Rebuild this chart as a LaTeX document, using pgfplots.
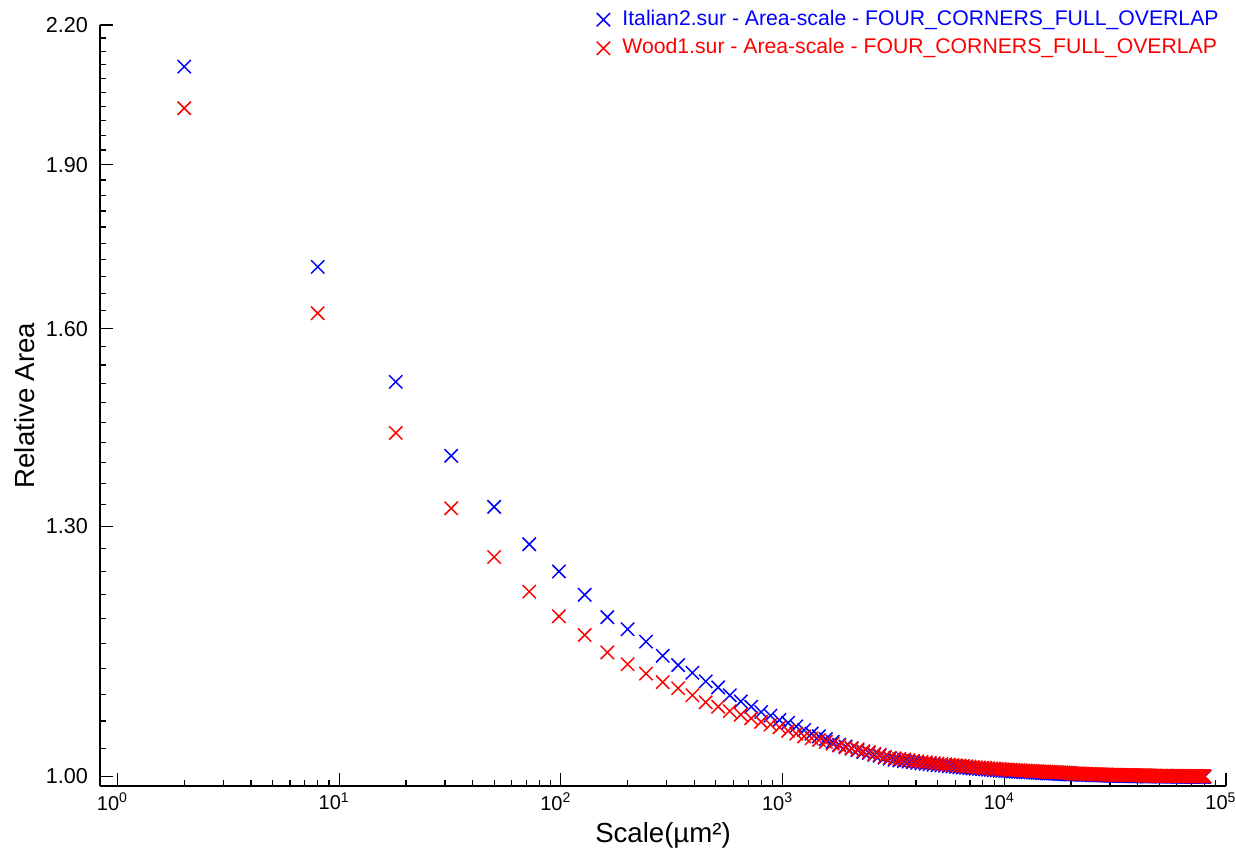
\documentclass[border=0pt]{standalone}
\usepackage{fontspec}
\setmainfont{Liberation Sans}
\usepackage{pgfplots}
\usepackage{pgfplotstable}
\pgfplotsset{compat=1.18}
\pgfplotstableread{
x B R
2 2.106 2.016
8 1.707 1.626
18 1.513 1.434
32 1.400 1.325
50 1.327 1.259
72 1.276 1.214
98 1.240 1.183
128 1.210 1.160
162 1.182 1.139
200 1.167 1.125
242 1.152 1.114
288 1.135 1.104
338 1.124 1.097
392 1.115 1.089
450 1.105 1.081
512 1.098 1.076
578 1.089 1.071
648 1.082 1.067
722 1.076 1.063
800 1.070 1.059
882 1.066 1.056
968 1.061 1.053
1058 1.058 1.049
1152 1.054 1.046
1250 1.050 1.043
1352 1.046 1.041
1458 1.043 1.039
1568 1.040 1.037
1682 1.037 1.035
1800 1.034 1.033
1922 1.032 1.031
2048 1.030 1.030
2178 1.028 1.029
2312 1.026 1.027
2450 1.025 1.026
2592 1.023 1.024
2738 1.022 1.023
2888 1.020 1.021
3042 1.019 1.020
3200 1.0177 1.0193
3362 1.0170 1.0186
3528 1.0164 1.0180
3698 1.0157 1.0173
3872 1.0151 1.0167
4050 1.0144 1.0160
4232 1.0139 1.0155
4418 1.0134 1.0150
4608 1.0130 1.0146
4802 1.0125 1.0141
5000 1.0120 1.0136
5202 1.0116 1.0132
5408 1.0113 1.0129
5618 1.0109 1.0125
5832 1.0106 1.0122
6050 1.0102 1.0118
6272 1.0099 1.0115
6498 1.0095 1.0111
6728 1.0092 1.0108
6962 1.0088 1.0104
7200 1.0085 1.0101
7442 1.0082 1.0098
7688 1.0080 1.0096
7938 1.0077 1.0093
8192 1.0075 1.0091
8450 1.0072 1.0088
8712 1.0070 1.0086
8978 1.0067 1.0083
9248 1.0065 1.0081
9522 1.0062 1.0078
9800 1.0060 1.0076
10082 1.0058 1.0074
10368 1.0057 1.0073
10658 1.0055 1.0071
10952 1.0054 1.0070
11250 1.0052 1.0068
11552 1.0050 1.0066
11858 1.0049 1.0065
12168 1.0047 1.0063
12482 1.0046 1.0062
12800 1.0044 1.0060
13122 1.0043 1.0059
13448 1.0042 1.0058
13778 1.0040 1.0056
14112 1.0039 1.0055
14450 1.0038 1.0054
14792 1.0037 1.0053
15138 1.0036 1.0052
15488 1.0034 1.0050
15842 1.0033 1.0049
16200 1.0032 1.0048
16562 1.0031 1.0047
16928 1.0030 1.0046
17298 1.0029 1.0045
17672 1.0028 1.0044
18050 1.0027 1.0043
18432 1.0025 1.0041
18818 1.0024 1.0040
19208 1.0023 1.0039
19602 1.0022 1.0038
20000 1.0021 1.0037
20402 1.0023 1.0033
20808 1.0022 1.0032
21218 1.0022 1.0032
21632 1.0021 1.0031
22050 1.0020 1.0030
22472 1.0019 1.0029
22898 1.0018 1.0028
23328 1.0018 1.0028
23762 1.0017 1.0027
24200 1.0016 1.0026
24642 1.0015 1.0025
25088 1.0015 1.0025
25538 1.0014 1.0024
25992 1.0014 1.0024
26450 1.0013 1.0023
26912 1.0012 1.0022
27378 1.0012 1.0022
27848 1.0011 1.0021
28322 1.0011 1.0021
28800 1.0010 1.0020
29282 1.0010 1.0020
29768 1.0009 1.0019
30258 1.0009 1.0019
30752 1.0008 1.0018
31250 1.0008 1.0018
31752 1.0008 1.0018
32258 1.0007 1.0017
32768 1.0007 1.0017
33282 1.0006 1.0016
33800 1.0006 1.0016
34322 1.0006 1.0016
34848 1.0005 1.0015
35378 1.0005 1.0015
35912 1.0005 1.0015
36450 1.0005 1.0015
36992 1.0004 1.0014
37538 1.0004 1.0014
38088 1.0004 1.0014
38642 1.0003 1.0013
39200 1.0003 1.0013
39762 1.0003 1.0013
40328 1.0003 1.0013
40898 1.0002 1.0012
41472 1.0002 1.0012
42050 1.0002 1.0012
42632 1.0002 1.0012
43218 1.0002 1.0012
43808 1.0001 1.0011
44402 1.0001 1.0011
45000 1.0001 1.0011
45602 1.0003 1.0009
46208 1.0003 1.0009
46818 1.0002 1.0008
47432 1.0002 1.0008
48050 1.0002 1.0008
48672 1.0002 1.0008
49298 1.0002 1.0008
49928 1.0001 1.0007
50562 1.0001 1.0007
51200 1.0001 1.0007
51842 1.0001 1.0007
52488 1.0001 1.0007
53138 1.0001 1.0007
53792 1.0001 1.0007
54450 1.0001 1.0007
55112 1.0000 1.0006
55778 1.0000 1.0006
56448 1.0000 1.0006
57122 1.0000 1.0006
57800 1.0000 1.0006
58482 1.0000 1.0006
59168 1.0000 1.0006
59858 1.0000 1.0006
60552 1.0000 1.0006
61250 0.9999 1.0005
61952 0.9999 1.0005
62658 0.9999 1.0005
63368 0.9999 1.0005
64082 0.9999 1.0005
64800 0.9999 1.0005
65522 0.9999 1.0005
66248 0.9999 1.0005
66978 0.9999 1.0005
67712 0.9999 1.0005
68450 0.9999 1.0005
69192 0.9998 1.0004
69938 0.9998 1.0004
70688 0.9998 1.0004
71442 0.9998 1.0004
72200 0.9998 1.0004
72962 0.9998 1.0004
73728 0.9998 1.0004
74498 0.9998 1.0004
75272 0.9998 1.0004
76050 0.9998 1.0004
76832 0.9997 1.0003
77618 0.9997 1.0003
78408 0.9997 1.0003
79202 0.9997 1.0003
80000 0.9997 1.0003
}\datatable
\begin{document}
\begin{tikzpicture}
\path[use as bounding box] (-50pt,-34.5pt) rectangle (568pt,393pt);
\begin{axis}[
  at={(0pt,0pt)}, anchor=south west,
  scale only axis, width=563pt, height=380.5pt,
  xmode=log, ymode=log,
  xmin=0.834, xmax=100000, ymin=0.9901, ymax=2.2,
  axis x line*=bottom, axis y line*=left,
  axis line style={line width=0.9pt, black},
  tick align=inside,
  major tick length=6.5pt, minor tick length=3.2pt,
  tick style={black, line width=0.6pt},
  xtick={1,10,100,1000,10000,100000},
  xticklabels={10\textsuperscript{0},10\textsuperscript{1},10\textsuperscript{2},10\textsuperscript{3},10\textsuperscript{4},10\textsuperscript{5}},
  minor xtick={2,3,4,5,6,7,8,9,20,30,40,50,60,70,80,90,200,300,400,500,600,700,800,900,2000,3000,4000,5000,6000,7000,8000,9000,20000,30000,40000,50000,60000,70000,80000,90000},
  ytick={1,1.3,1.6,1.9,2.2},
  yticklabels={1.00,1.30,1.60,1.90,2.20},
  minor ytick={1.03,1.06,1.09,1.12,1.15,1.18,1.21,1.24,1.27,1.33,1.36,1.39,1.42,1.45,1.48,1.51,1.54,1.57,1.63,1.66,1.69,1.72,1.75,1.78,1.81,1.84,1.87,1.93,1.96,1.99,2.02,2.05,2.08,2.11,2.14,2.17},
  yticklabel style={font=\fontsize{10.8}{13}\selectfont, xshift=-2.5pt},
  xticklabel style={font=\fontsize{10}{12}\selectfont, xshift=-2.5pt},
  xlabel={Scale(µm²)},
  xlabel style={at={(axis description cs:0.5,-0.0644)}, anchor=center, font=\fontsize{13.8}{16}\selectfont},
  ylabel={Relative Area},
  ylabel style={at={(axis description cs:-0.0666,0.5)}, anchor=center, font=\fontsize{13.8}{16}\selectfont},
  legend style={draw=none, fill=none, at={(rel axis cs:1,1)}, anchor=north east, xshift=-2pt, yshift=9.25pt,
    font=\fontsize{10.6}{12.7}\selectfont, inner sep=0pt, row sep=1.5pt,
    nodes={inner sep=1.5pt, text height=7.6pt, text depth=2.2pt},
    /tikz/every odd column/.append style={column sep=4.7pt}},
  legend cell align=left,
]
\addplot[only marks, mark=x, blue, mark size=4.7pt, mark options={line width=0.75pt}] table[x=x, y=B] {\datatable};
\addlegendentry{\textcolor{blue}{Italian2.sur - Area-scale - FOUR\_CORNERS\_FULL\_OVERLAP}}
\addplot[only marks, mark=x, red, mark size=4.7pt, mark options={line width=0.75pt}] table[x=x, y=R] {\datatable};
\addlegendentry{\textcolor{red}{Wood1.sur - Area-scale - FOUR\_CORNERS\_FULL\_OVERLAP}}
\end{axis}
\end{tikzpicture}
\end{document}
